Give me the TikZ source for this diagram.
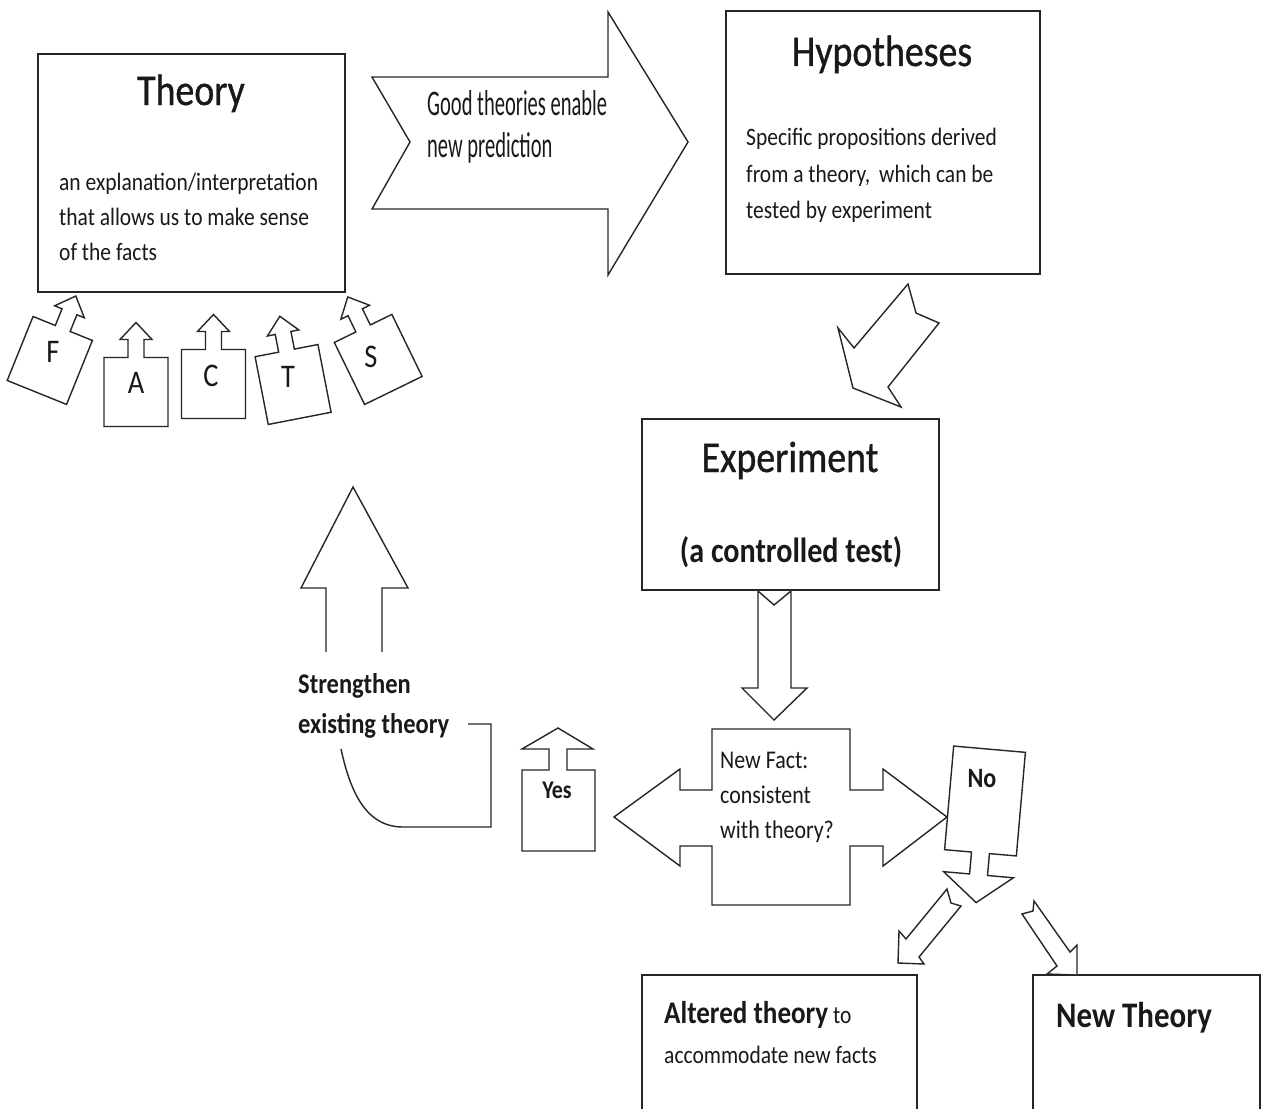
\documentclass[tikz,border=0pt]{standalone}
\usepackage{fontspec}
\setmainfont{Carlito}[FakeStretch=0.86]
\newfontfamily\condfont{Carlito}[FakeStretch=0.57]
\newfontfamily\ttlfont{Carlito}[FakeStretch=0.86, FakeBold=0.8]
\tikzset{
  shp/.style={draw=black!85, line width=1.4pt, fill=white, line join=miter},
  opn/.style={draw=black!85, line width=1.4pt},
  txt/.style={inner sep=0pt, text=black!90},
  ttl/.style={txt, anchor=base, font=\fontsize{44}{50}\ttlfont},
  body/.style={txt, anchor=base west, font=\fontsize{25}{30}\selectfont},
  lett/.style={txt, font=\fontsize{33}{36}\selectfont},
}
\newcommand\facttile[3]{% x, y, angle
  \begin{scope}[shift={(#1,#2)}, rotate=#3]
    \draw[shp] (-32,-34) -- (-8,-34) -- (-8,-52) -- (-16,-52) -- (0,-69) -- (16,-52)
      -- (8,-52) -- (8,-34) -- (32,-34) -- (32,35) -- (-32,35) -- cycle;
  \end{scope}}
\begin{document}
\begin{tikzpicture}[x=1pt, y=-1pt]
\useasboundingbox[fill=white] (0,0) rectangle (1268,1108);

% ---------- boxes ----------
\draw[shp] (38,54) rectangle (345,292);
\draw[shp] (726,11) rectangle (1040,274);
\draw[shp] (642,419) rectangle (939,590);
\draw[opn] (642,1112) -- (642,975) -- (917,975) -- (917,1112);
\draw[opn] (1033,1112) -- (1033,975) -- (1260,975) -- (1260,1112);

% ---------- Theory ----------
\node[ttl] (theoryT) at (191,105) {Theory};
\node[body] (theory1) at (59,190) {an explanation/interpretation};
\node[body] (theory2) at (59,225) {that allows us to make sense};
\node[body] (theory3) at (59,260) {of the facts};

% ---------- Hypotheses ----------
\node[ttl] (hypT) at (882,66) {Hypotheses};
\node[body] (hyp1) at (746,145) {Specific propositions derived};
\node[body] (hyp2) at (746,182) {from a theory,\, which can be};
\node[body] (hyp3) at (746,218) {tested by experiment};

% ---------- Experiment ----------
\node[ttl] (expT) at (790,472) {Experiment};
\node[txt, anchor=base, font=\fontsize{35}{40}\selectfont\bfseries] (expS) at (791,562) {(a controlled test)};

% ---------- big right arrow ----------
\draw[shp] (372,77) -- (608,77) -- (608,12) -- (688,142) -- (608,275) -- (608,209)
  -- (372,209) -- (410,142) -- cycle;
\node[txt, anchor=base west, font=\fontsize{36}{40}\condfont] (good1) at (427,115) {Good theories enable};
\node[txt, anchor=base west, font=\fontsize{36}{40}\condfont] (good2) at (427,157) {new prediction};

% ---------- hypotheses -> experiment arrow ----------
\draw[shp] (908,284) -- (854,348) -- (838,328) -- (853,388) -- (901,407) -- (888,387)
  -- (939,323) -- (916,313) -- cycle;

% ---------- FACTS tiles ----------
\facttile{50}{360}{-22}
\facttile{136}{391.5}{0}
\facttile{213.5}{383.5}{0}
\facttile{293}{384}{11}
\facttile{378}{359}{26}
\node[lett] (lF) at (53,352) {F};
\node[lett] (lA) at (136,383) {A};
\node[lett] (lC) at (211,376) {C};
\node[lett] (lT) at (288,377) {T};
\node[lett] (lS) at (371,357) {S};

% ---------- experiment -> new fact arrow ----------
\draw[shp] (758,591) -- (774,605) -- (791,591) -- (791,688) -- (807,688) -- (774,720)
  -- (742,688) -- (758,688) -- cycle;

% ---------- double arrow New Fact ----------
\draw[shp] (712,729) -- (850,729) -- (850,790) -- (883,790) -- (883,769) -- (947,817)
  -- (883,866) -- (883,846) -- (850,846) -- (850,905) -- (712,905) -- (712,846)
  -- (680,846) -- (680,866) -- (614,817) -- (680,769) -- (680,790) -- (712,790) -- cycle;
\node[body, font=\fontsize{25.5}{30}\selectfont] (nf1) at (720,768) {New Fact:};
\node[body, font=\fontsize{25.5}{30}\selectfont] (nf2) at (720,803) {consistent};
\node[body, font=\fontsize{25.5}{30}\selectfont] (nf3) at (720,838) {with theory?};

% ---------- Yes tile ----------
\draw[shp] (522,851) -- (522,770) -- (549,770) -- (549,749) -- (522,749) -- (558,728)
  -- (593,749) -- (567,749) -- (567,770) -- (595,770) -- (595,851) -- cycle;
\node[txt, anchor=base, font=\fontsize{25.5}{30}\selectfont\bfseries] (yes) at (557,798) {Yes};

% ---------- strengthen ----------
\draw[opn, fill=white] (326,652) -- (326,588) -- (301,588) -- (353,487) -- (408,588)
  -- (382,588) -- (382,652);
\node[txt, anchor=base west, font=\fontsize{28.5}{32}\selectfont\bfseries] (str1) at (298,693) {Strengthen};
\begin{scope}
  \clip (290,700) rectangle (470,737);
  \node[txt, anchor=base west, font=\fontsize{28.5}{32}\selectfont\bfseries] (str2) at (298,733) {existing theory};
\end{scope}
\draw[opn] (468,724) -- (491,724) -- (491,827) -- (403,827)
  .. controls (365,827) and (350,790) .. (341,749);

% ---------- bottom arrows ----------
\draw[shp] (947,889) -- (906,939) -- (899,931) -- (898,963) -- (924,964) -- (919,957)
  -- (961,906) -- (951,903) -- cycle;
\draw[shp] (1034,901) -- (1070,952) -- (1077,945) -- (1077,975) -- (1047,974)
  -- (1057,966) -- (1022,914) -- (1033,911) -- cycle;

% ---------- No tile ----------
\begin{scope}[shift={(985,801)}, rotate=-5]
  \draw[shp] (-36,-52) -- (36,-52) -- (36,52) -- (9,52) -- (9,74) -- (35,74) -- (0,102)
    -- (-35,74) -- (-9,74) -- (-9,52) -- (-36,52) -- cycle;
\end{scope}
\node[txt, anchor=base, font=\fontsize{28}{32}\selectfont\bfseries] (no) at (982,787) {No};

% ---------- bottom boxes text ----------
\node[txt, anchor=base west, font=\fontsize{25}{30}\selectfont] (alt1) at (664,1023)
  {{\fontsize{31.5}{36}\selectfont\bfseries Altered theory}\ to};
\node[body] (alt2) at (664,1063) {accommodate new facts};
\node[txt, anchor=base west, font=\fontsize{36}{40}\selectfont\bfseries] (newT) at (1056,1027) {New Theory};
\end{tikzpicture}
\end{document}
